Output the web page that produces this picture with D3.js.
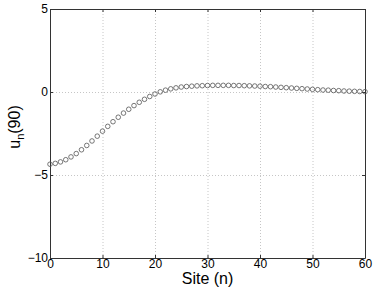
<!DOCTYPE html>
<html>
<head>
<meta charset="utf-8">
<script src="https://cdn.jsdelivr.net/npm/d3@7"></script>
<style>
    body { margin: 0; background: #fff; }
    svg { display: block; font-family: "Liberation Sans", Arial, sans-serif; }
    .grid line { stroke: #b8b8b8; stroke-width: 0.8; stroke-dasharray: 1,2; }
    .grid path { display: none; }
    .axis path, .axis line { stroke: #333; stroke-width: 1; }
    .axis text { font-size: 12px; fill: #000; }
    .pt { fill: none; stroke: #555; stroke-width: 0.8; }
</style>
</head>
<body>
<svg width="374" height="289"></svg>
<script>
    // site index n and displacement u_n(90)
    var sites = [0, 1, 2, 3, 4, 5, 6, 7, 8, 9, 10, 11, 12, 13, 14, 15, 16, 17, 18, 19, 20,
        21, 22, 23, 24, 25, 26, 27, 28, 29, 30, 31, 32, 33, 34, 35, 36, 37, 38, 39, 40,
        41, 42, 43, 44, 45, 46, 47, 48, 49, 50, 51, 52, 53, 54, 55, 56, 57, 58, 59, 60];
    var uValues = [-4.35, -4.30, -4.21, -4.08, -3.91, -3.71, -3.48, -3.22, -2.95, -2.66, -2.36,
        -2.07, -1.79, -1.52, -1.27, -1.04, -0.82, -0.62, -0.44, -0.27, -0.12,
        0.01, 0.11, 0.19, 0.25, 0.30, 0.33, 0.35, 0.37, 0.38, 0.39,
        0.40, 0.40, 0.40, 0.40, 0.39, 0.39, 0.38, 0.37, 0.36, 0.35,
        0.33, 0.32, 0.30, 0.28, 0.26, 0.24, 0.22, 0.20, 0.18, 0.16,
        0.14, 0.12, 0.11, 0.09, 0.08, 0.06, 0.05, 0.04, 0.03, 0.02];
    var xTicks = [0, 10, 20, 30, 40, 50, 60];
    var xTickLabels = ["0", "10", "20", "30", "40", "50", "60"];
    var yTicks = [5, 0, -5, -10];
    var yTickLabels = ["5", "0", "\u22125", "\u221210"];

    var margin = {top: 9, right: 9, bottom: 31, left: 50},
        svg = d3.select("svg"),
        width = +svg.attr("width") - margin.left - margin.right,
        height = +svg.attr("height") - margin.top - margin.bottom;

    var x = d3.scaleLinear().domain([0, 60]).range([0, width]),
        y = d3.scaleLinear().domain([-10, 5]).range([height, 0]);

    var g = svg.append("g")
        .attr("transform", "translate(" + margin.left + "," + margin.top + ")");

    // dotted grid
    g.append("g")
        .attr("class", "grid")
        .attr("transform", "translate(0," + height + ")")
        .call(d3.axisBottom(x).tickValues(xTicks.slice(1, -1)).tickSize(-height).tickFormat(""));
    g.append("g")
        .attr("class", "grid")
        .call(d3.axisLeft(y).tickValues(yTicks.slice(1, -1)).tickSize(-width).tickFormat(""));

    // box axes, ticks pointing inward
    g.append("g")
        .attr("class", "axis axis--x")
        .attr("transform", "translate(0," + height + ")")
        .call(d3.axisBottom(x).tickValues(xTicks).tickSizeInner(-3).tickSizeOuter(0).tickPadding(1)
            .tickFormat(function(d, i) { return xTickLabels[i]; }));
    g.append("g")
        .attr("class", "axis axis--top")
        .call(d3.axisTop(x).tickValues(xTicks).tickSizeInner(-3).tickSizeOuter(0).tickFormat(""));
    g.append("g")
        .attr("class", "axis axis--y")
        .call(d3.axisLeft(y).tickValues(yTicks).tickSizeInner(-3).tickSizeOuter(0).tickPadding(2)
            .tickFormat(function(d, i) { return yTickLabels[i]; }));
    g.append("g")
        .attr("class", "axis axis--right")
        .attr("transform", "translate(" + width + ",0)")
        .call(d3.axisRight(y).tickValues(yTicks).tickSizeInner(-3).tickSizeOuter(0).tickFormat(""));

    g.selectAll(".axis--x text").attr("dy", "0.75em");

    // markers
    g.selectAll(".pt")
        .data(sites)
        .enter().append("circle")
        .attr("class", "pt")
        .attr("cx", function(d) { return x(d); })
        .attr("cy", function(d, i) { return y(uValues[i]); })
        .attr("r", 2.3);

    // axis labels
    svg.append("text")
        .attr("x", margin.left + width / 2)
        .attr("y", 284)
        .attr("text-anchor", "middle")
        .style("font-size", "16px")
        .text("Site (n)");

    var yl = svg.append("text")
        .attr("transform", "translate(20," + 127 + ") rotate(-90)")
        .attr("text-anchor", "middle")
        .style("font-size", "16px");
    yl.append("tspan").text("u");
    yl.append("tspan").attr("dy", 4).style("font-size", "11px").text("n");
    yl.append("tspan").attr("dy", -4).text("(90)");
</script>
</body>
</html>
